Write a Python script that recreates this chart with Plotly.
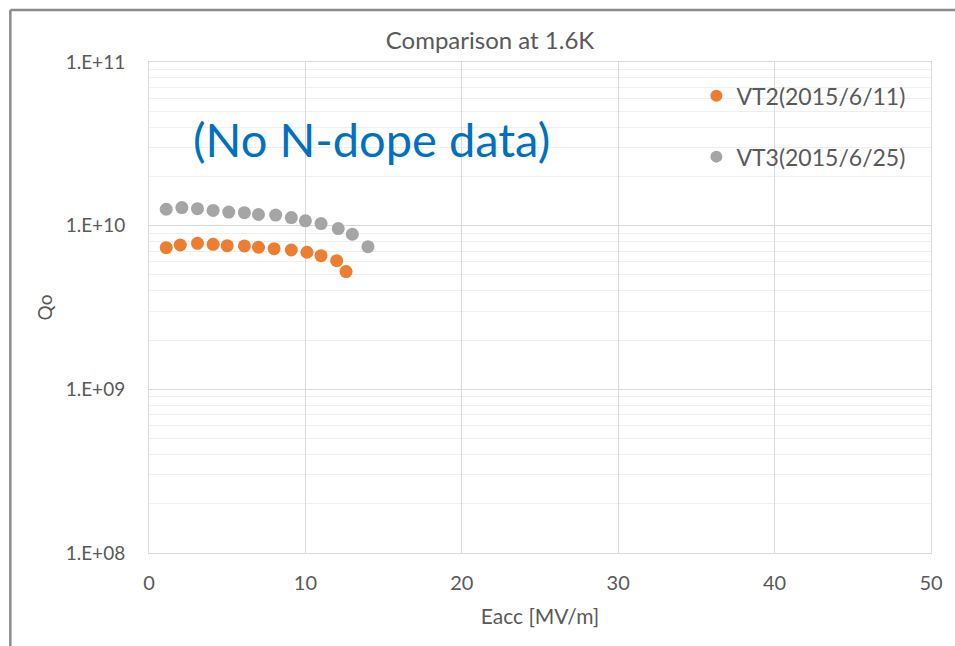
import plotly.graph_objects as go

# ---- data ----
vt2_eacc = [1.1, 2.0, 3.1, 4.1, 5.0, 6.1, 7.0, 8.0, 9.1, 10.1, 11.0, 12.0, 12.6]
vt2_q0 = [7.34e9, 7.62e9, 7.80e9, 7.69e9, 7.55e9, 7.52e9, 7.38e9, 7.23e9, 7.10e9,
          6.88e9, 6.56e9, 6.11e9, 5.24e9]
vt3_eacc = [1.1, 2.1, 3.1, 4.1, 5.1, 6.1, 7.0, 8.1, 9.1, 10.0, 11.0, 12.1, 13.0, 14.0]
vt3_q0 = [1.26e10, 1.29e10, 1.27e10, 1.24e10, 1.21e10, 1.20e10, 1.17e10, 1.16e10,
          1.12e10, 1.07e10, 1.03e10, 9.6e9, 8.86e9, 7.44e9]
series_names = ["VT2(2015/6/11)", "VT3(2015/6/25)"]
y_tick_vals = [1e8, 1e9, 1e10, 1e11]
y_tick_text = ["1.E+08", "1.E+09", "1.E+10", "1.E+11"]
x_tick_vals = [0, 10, 20, 30, 40, 50]

FONT = "Lato"
TXT = "#595959"

fig = go.Figure()
fig.add_trace(go.Scatter(x=vt2_eacc, y=vt2_q0, mode="markers", name=series_names[0],
                         legendgroup="a",
                         marker=dict(color="#ED7D31", size=13)))
fig.add_trace(go.Scatter(x=vt3_eacc, y=vt3_q0, mode="markers", name=series_names[1],
                         legendgroup="b",
                         marker=dict(color="#A5A5A5", size=13)))

fig.update_layout(
    width=955, height=646,
    margin=dict(l=149, r=22, t=62, b=93),
    paper_bgcolor="white", plot_bgcolor="white",
    font=dict(family=FONT, color=TXT, size=19),
    title=dict(text="Comparison at 1.6K", x=490/955, xref="container", xanchor="center",
               y=1-41/646, yref="container", yanchor="middle",
               font=dict(family=FONT, size=24, color=TXT)),
    showlegend=True,
    legend=dict(x=0.7, y=0.975, xanchor="left", yanchor="top",
                font=dict(family=FONT, size=23, color=TXT),
                tracegroupgap=28, itemsizing="constant", bgcolor="rgba(0,0,0,0)"),
    xaxis=dict(range=[0, 50], tickvals=x_tick_vals, showgrid=True, gridcolor="#D9D9D9",
               gridwidth=1, zeroline=False, showline=True, linecolor="#D9D9D9", mirror=True,
               ticks="", ticklabelstandoff=12,
               tickfont=dict(family=FONT, size=20, color=TXT),
               title=dict(text="Eacc [MV/m]", standoff=16,
                          font=dict(family=FONT, size=21, color=TXT))),
    yaxis=dict(type="log", range=[8, 11], tickvals=y_tick_vals, ticktext=y_tick_text,
               showgrid=True, gridcolor="#D9D9D9", gridwidth=1, zeroline=False,
               showline=True, linecolor="#D9D9D9", mirror=True, ticks="",
               ticklabelstandoff=19,
               minor=dict(dtick="D1", showgrid=True, gridcolor="#EFEFEF", ticks=""),
               tickfont=dict(family=FONT, size=19, color=TXT),
               title=dict(text="Qo", standoff=8,
                          font=dict(family=FONT, size=19, color=TXT))),
)

fig.add_annotation(text="(No N-dope data)", x=(191-149)/784, y=(553-139)/491,
                   xref="paper", yref="paper", xanchor="left", yanchor="middle",
                   showarrow=False, font=dict(family=FONT, size=47, color="#0070C0"))

# outer chart-area border (left and top edges visible)
bx = (10-149)/784
by = (553-10)/491
fig.add_shape(type="line", xref="paper", yref="paper", x0=bx, x1=bx, y0=-0.3, y1=by,
              line=dict(color="#8C8C8C", width=2.5))
fig.add_shape(type="line", xref="paper", yref="paper", x0=bx, x1=1.2, y0=by, y1=by,
              line=dict(color="#8C8C8C", width=2.5))

fig.write_html("out.html", config={"displayModeBar": False},
               post_script="document.body.style.margin='0';document.body.style.overflow='hidden';")
